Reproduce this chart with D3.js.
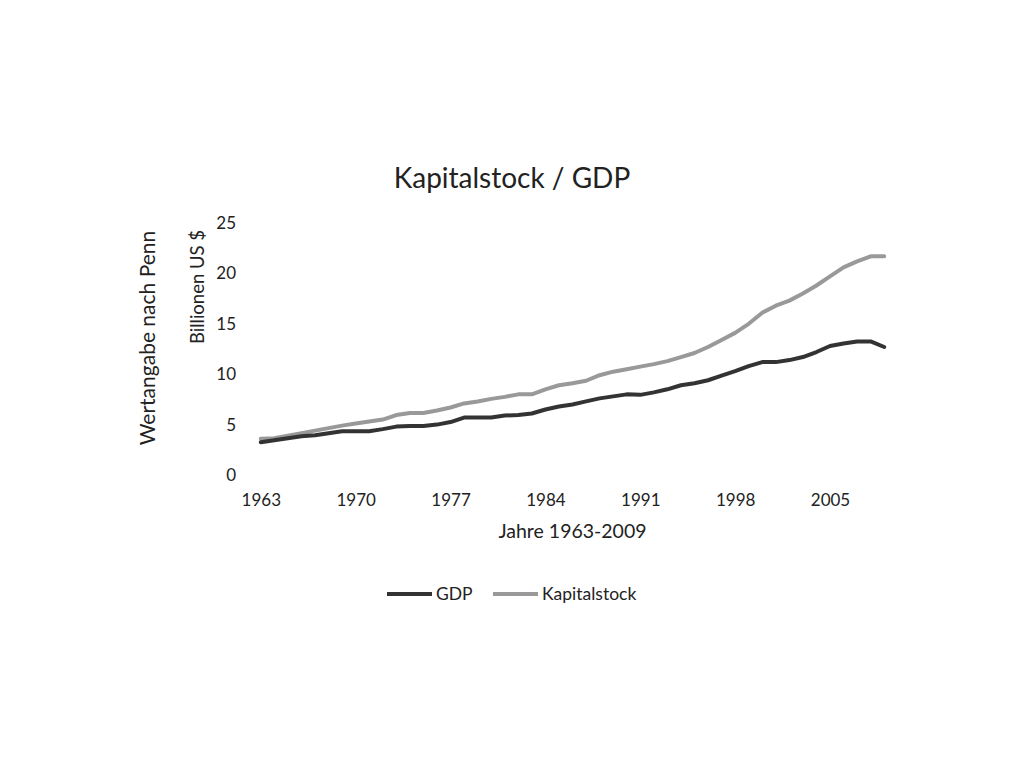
<!DOCTYPE html>
<html lang="de">
<head>
  <meta charset="UTF-8" />
  <title>Kapitalstock / GDP</title>
  <script src="https://d3js.org/d3.v7.min.js"></script>
  <style>
    body { margin: 0; background: #fff; }
    svg text { font-family: Lato, "Open Sans", sans-serif; fill: #222; }
  </style>
</head>
<body>
<svg id="chart" width="1024" height="768"></svg>
<script>
  // years 1963-2009
  const years = d3.range(1963, 2010);
  const tickYears = [1963, 1970, 1977, 1984, 1991, 1998, 2005];
  const yTicks = [0, 5, 10, 15, 20, 25];

  // Billionen US $
  const gdp = [
    3.25, 3.45, 3.65, 3.85, 3.95, 4.15, 4.35, 4.35, 4.35, 4.55,
    4.8, 4.85, 4.85, 5.0, 5.25, 5.7, 5.7, 5.7, 5.9, 5.95,
    6.1, 6.5, 6.8, 7.0, 7.3, 7.6, 7.8, 8.0, 7.95, 8.2,
    8.5, 8.9, 9.1, 9.4, 9.85, 10.3, 10.8, 11.2, 11.2, 11.4,
    11.7, 12.2, 12.8, 13.05, 13.25, 13.25, 12.7
  ];
  const kapital = [
    3.6, 3.65, 3.9, 4.15, 4.4, 4.65, 4.9, 5.1, 5.3, 5.5,
    5.95, 6.15, 6.15, 6.4, 6.7, 7.1, 7.3, 7.55, 7.75, 8.0,
    8.0, 8.5, 8.9, 9.1, 9.35, 9.9, 10.25, 10.5, 10.75, 11.0,
    11.3, 11.7, 12.1, 12.7, 13.4, 14.1, 15.0, 16.1, 16.8, 17.3,
    18.0, 18.8, 19.7, 20.6, 21.2, 21.7, 21.7
  ];

  const series = [
    { name: 'GDP', values: gdp, color: '#333333' },
    { name: 'Kapitalstock', values: kapital, color: '#999999' }
  ];

  const svg = d3.select('#chart');
  const plotLeft = 254, plotRight = 891, plotTop = 223, plotBottom = 475;

  const x = d3.scalePoint().domain(years).range([plotLeft, plotRight]).padding(0.5);
  const y = d3.scaleLinear().domain([0, 25]).range([plotBottom, plotTop]);

  svg.append('text')
    .attr('x', 512).attr('y', 188)
    .attr('text-anchor', 'middle')
    .style('font-size', '28px')
    .text('Kapitalstock / GDP');

  // y axis (labels only)
  const yAxis = d3.axisLeft(y).tickValues(yTicks).tickSize(0).tickPadding(0);
  const gy = svg.append('g').attr('transform', `translate(236,0)`).call(yAxis);
  gy.select('.domain').remove();
  gy.selectAll('text').style('font-size', '17px').attr('fill', '#222');

  // x axis (labels only)
  const xAxis = d3.axisBottom(x).tickValues(tickYears).tickSize(0).tickPadding(0);
  const gx = svg.append('g').attr('transform', `translate(0,${plotBottom + 19})`).call(xAxis);
  gx.select('.domain').remove();
  gx.selectAll('text').style('font-size', '17px').attr('fill', '#222');

  // axis titles
  svg.append('text')
    .attr('transform', 'translate(204,287) rotate(-90)')
    .attr('text-anchor', 'middle')
    .style('font-size', '18.5px')
    .text('Billionen US $');
  svg.append('text')
    .attr('transform', 'translate(155,338) rotate(-90)')
    .attr('text-anchor', 'middle')
    .style('font-size', '21px')
    .text('Wertangabe nach Penn');
  svg.append('text')
    .attr('x', (plotLeft + plotRight) / 2).attr('y', 538)
    .attr('text-anchor', 'middle')
    .style('font-size', '19.5px')
    .text('Jahre 1963-2009');

  const line = d3.line()
    .x((d, i) => x(years[i]))
    .y(d => y(d));

  // draw Kapitalstock first, GDP on top
  svg.selectAll('.series')
    .data(series.slice().reverse())
    .join('path')
    .classed('series', true)
    .attr('d', d => line(d.values))
    .attr('fill', 'none')
    .attr('stroke', d => d.color)
    .attr('stroke-width', 4)
    .attr('stroke-linejoin', 'round')
    .attr('stroke-linecap', 'round');

  // legend
  const legendX = [387, 493];
  const lg = svg.selectAll('.legend')
    .data(series)
    .join('g')
    .classed('legend', true)
    .attr('transform', (d, i) => `translate(${legendX[i]},594)`);
  lg.append('line')
    .attr('x1', 0).attr('x2', 45)
    .attr('stroke', d => d.color)
    .attr('stroke-width', 4);
  lg.append('text')
    .attr('x', 49).attr('y', 6)
    .style('font-size', '17.5px')
    .text(d => d.name);
</script>
</body>
</html>
